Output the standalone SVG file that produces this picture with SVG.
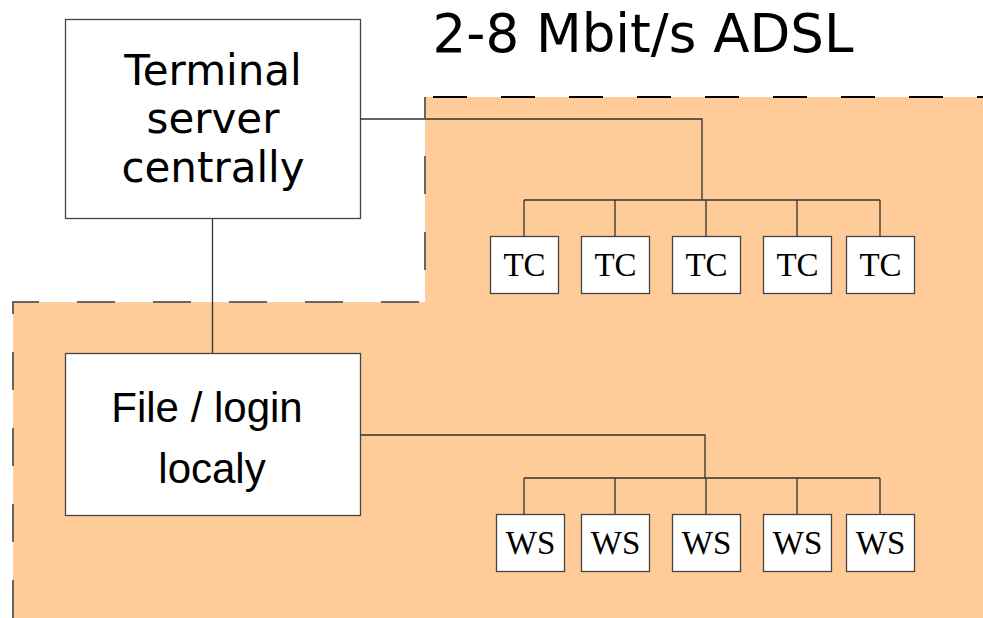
<svg xmlns="http://www.w3.org/2000/svg" width="983" height="618" viewBox="0 0 983 618">
<style>
.box{fill:#fff;stroke:#444;stroke-width:1.3}
.big{font-family:"DejaVu Sans",sans-serif;font-size:42px;fill:#000;text-anchor:middle}
.arial{font-family:"Liberation Sans",Arial,sans-serif;font-size:42px;fill:#000;text-anchor:middle}
.small{font-family:"Liberation Serif","Times New Roman",serif;font-size:33px;fill:#000;text-anchor:middle}
.wire{fill:none;stroke:#333;stroke-width:1.3}
.dash{fill:none;stroke:#666;stroke-width:2;stroke-dasharray:38 38}
</style>
<rect width="983" height="618" fill="#fff"/>
<g id="adsl-zone">
<polygon points="13,302 425,302 425,97 983,97 983,618 13,618" fill="#FFCC99"/>
<path class="dash" d="M13,618 V302 H425 V97"/>
<path d="M425,97 H983" fill="none" stroke="#000" stroke-width="2" stroke-dasharray="34 34" stroke-dashoffset="-8"/>
</g>
<text x="643" y="52" font-family="DejaVu Sans,sans-serif" font-size="53" text-anchor="middle">2-8 Mbit/s ADSL</text>
<g id="connectors">
<path class="wire" d="M212.5,218 V353"/>
<path class="wire" d="M360,119 H702 V200 M524,200 H880 M524,200 V236 M615,200 V236 M706,200 V236 M797,200 V236 M880,200 V236"/>
<path class="wire" d="M360,435 H705 V478 M524,478 H880 M524,478 V514 M615,478 V514 M706,478 V514 M797,478 V514 M880,478 V514"/>
</g>
<g id="terminal-server">
<rect class="box" x="65.5" y="19.5" width="295" height="199"/>
<text class="big" x="213" y="85">Terminal</text>
<text class="big" x="213" y="133">server</text>
<text class="big" x="213" y="182">centrally</text>
</g>
<g id="file-login">
<rect class="box" x="65.5" y="353.5" width="295" height="162"/>
<text class="arial" x="207" y="422">File / login</text>
<text class="arial" x="212" y="483">localy</text>
</g>
<g id="tc1"><rect class="box" x="490.5" y="236.5" width="68" height="57"/><text class="small" x="524.5" y="276">TC</text></g>
<g id="tc2"><rect class="box" x="581.5" y="236.5" width="68" height="57"/><text class="small" x="615.5" y="276">TC</text></g>
<g id="tc3"><rect class="box" x="672.5" y="236.5" width="68" height="57"/><text class="small" x="706.5" y="276">TC</text></g>
<g id="tc4"><rect class="box" x="763.5" y="236.5" width="68" height="57"/><text class="small" x="797.5" y="276">TC</text></g>
<g id="tc5"><rect class="box" x="846.5" y="236.5" width="68" height="57"/><text class="small" x="880.5" y="276">TC</text></g>
<g id="ws1"><rect class="box" x="496.5" y="514.5" width="68" height="57"/><text class="small" x="530.5" y="554">WS</text></g>
<g id="ws2"><rect class="box" x="581.5" y="514.5" width="68" height="57"/><text class="small" x="615.5" y="554">WS</text></g>
<g id="ws3"><rect class="box" x="672.5" y="514.5" width="68" height="57"/><text class="small" x="706.5" y="554">WS</text></g>
<g id="ws4"><rect class="box" x="763.5" y="514.5" width="68" height="57"/><text class="small" x="797.5" y="554">WS</text></g>
<g id="ws5"><rect class="box" x="846.5" y="514.5" width="68" height="57"/><text class="small" x="880.5" y="554">WS</text></g>
</svg>
